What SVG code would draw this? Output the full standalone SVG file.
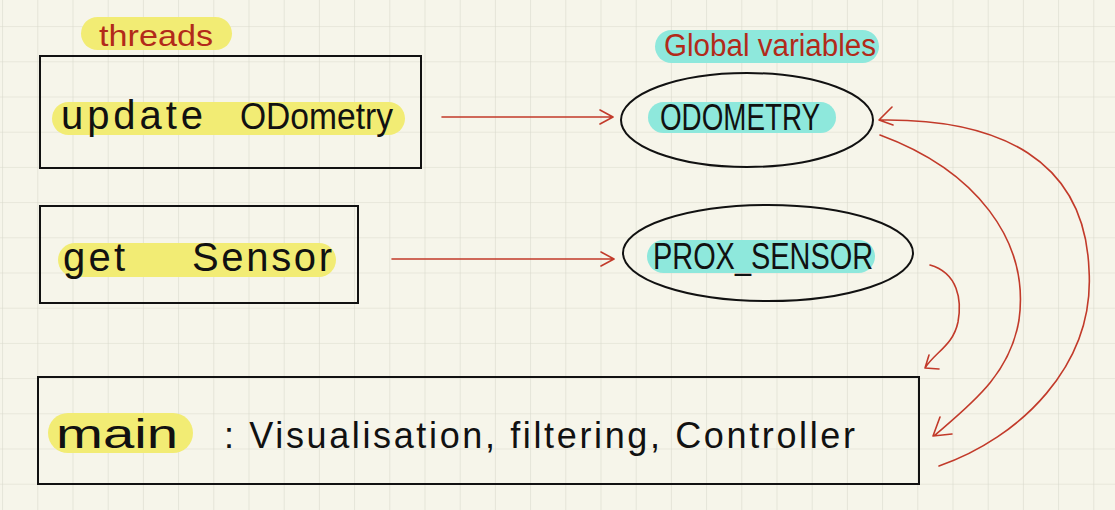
<svg xmlns="http://www.w3.org/2000/svg" width="1115" height="510" viewBox="0 0 1115 510">
  <defs>
    <pattern id="grid" x="2.1" y="26.1" width="35.2" height="35.2" patternUnits="userSpaceOnUse">
      <path d="M0 0 H35.2 M0 0 V35.2" fill="none" stroke="#d9d9cc" stroke-width="1.2"/>
    </pattern>
  </defs>
  <style>
    .box { fill: none; stroke: #111; stroke-width: 2; }
    .ell { fill: none; stroke: #111; stroke-width: 2; }
    .hy { fill: #f2ec74; }
    .hc { fill: #8ee8dc; }
    .t { font-family: "Liberation Sans", "DejaVu Sans", sans-serif; fill: #111; }
    .tr { font-family: "Liberation Sans", "DejaVu Sans", sans-serif; fill: #b22a1a; }
    .conn path { fill: none; stroke: #c23a2a; stroke-width: 1.6; stroke-linecap: round; stroke-linejoin: round; }
  </style>
  <rect width="1115" height="510" fill="#f6f5ea"/>
  <rect width="1115" height="510" fill="url(#grid)"/>

  <g id="label-threads">
    <rect class="hy" x="81" y="17" width="151" height="33" rx="16.5"/>
    <text class="tr" x="99" y="46" font-size="30" textLength="114" lengthAdjust="spacingAndGlyphs">threads</text>
  </g>
  <g id="label-global">
    <rect class="hc" x="655" y="30" width="224" height="33" rx="16.5"/>
    <text class="tr" x="664" y="56" font-size="31" textLength="212" lengthAdjust="spacingAndGlyphs">Global variables</text>
  </g>

  <g id="node-update-odometry">
    <rect class="box" x="40" y="56" width="381" height="112"/>
    <rect class="hy" x="52" y="102" width="353" height="33" rx="16.5"/>
    <text class="t" x="61" y="129" font-size="40" textLength="142" lengthAdjust="spacing">update</text>
    <text class="t" x="240" y="129" font-size="36" textLength="153" lengthAdjust="spacingAndGlyphs">ODometry</text>
  </g>
  <g id="node-get-sensor">
    <rect class="box" x="40" y="206" width="318" height="97"/>
    <rect class="hy" x="58" y="243" width="278" height="34" rx="17"/>
    <text class="t" x="63" y="271" font-size="40" textLength="62" lengthAdjust="spacing">get</text>
    <text class="t" x="192" y="271" font-size="40" textLength="140" lengthAdjust="spacing">Sensor</text>
  </g>
  <g id="node-main">
    <rect class="box" x="38" y="377" width="881" height="107"/>
    <rect class="hy" x="48" y="413" width="145" height="40" rx="20"/>
    <text class="t" x="56" y="448" font-size="40" textLength="122" lengthAdjust="spacingAndGlyphs">main</text>
    <text class="t" x="224" y="448" font-size="36" textLength="631" lengthAdjust="spacing">:  Visualisation, filtering, Controller</text>
  </g>
  <g id="node-odometry">
    <ellipse class="ell" cx="747" cy="120" rx="126" ry="47"/>
    <rect class="hc" x="648" y="102" width="188" height="31" rx="15.5"/>
    <text class="t" x="660" y="130" font-size="36" textLength="160" lengthAdjust="spacingAndGlyphs">ODOMETRY</text>
  </g>
  <g id="node-prox-sensor">
    <ellipse class="ell" cx="768" cy="253" rx="145" ry="48"/>
    <rect class="hc" x="647" y="240" width="228" height="33" rx="16.5"/>
    <text class="t" x="653" y="269" font-size="36" textLength="220" lengthAdjust="spacingAndGlyphs">PROX_SENSOR</text>
  </g>

  <g id="connectors" class="conn">
    <path d="M442 117 H613 M600 110 L613 117 L600 124"/>
    <path d="M392 259 H614 M601 252 L614 259 L601 266"/>
    <path d="M930 265 C958 273 962 300 958 322 C953 346 935 352 925 368 M929 355 L925 368 L939 369"/>
    <path d="M880 135 C975 170 1030 240 1019 320 C1010 375 970 405 934 436 M940 417 L933 436 L952 434"/>
    <path d="M939 466 C1020 438 1095 365 1089 270 C1085 160 1000 118 879 120 M892 107 L879 120 L893 125"/>
  </g>
</svg>
